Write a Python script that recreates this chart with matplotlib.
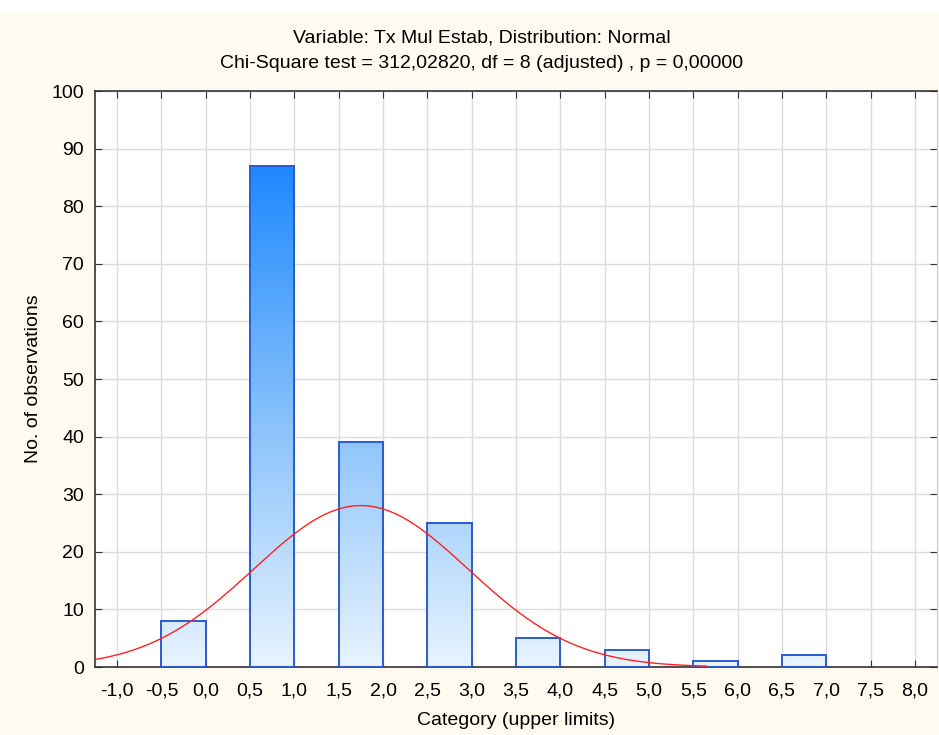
import numpy as np
import matplotlib
matplotlib.use("Agg")
import matplotlib.pyplot as plt
from matplotlib.colors import LinearSegmentedColormap
from matplotlib.patches import Rectangle

plt.rcParams['font.family'] = ['Liberation Sans', 'DejaVu Sans']

# histogram data (bin lower edge, count)
bin_left = [-0.5, 0.5, 1.5, 2.5, 3.5, 4.5, 5.5, 6.5]
counts = [8, 87, 39, 25, 5, 3, 1, 2]
bin_width = 0.5
# fitted normal
mu = 1.75
sigma = 1.21
n_total = sum(counts)
tick_vals = [-1.0, -0.5, 0.0, 0.5, 1.0, 1.5, 2.0, 2.5, 3.0, 3.5, 4.0,
             4.5, 5.0, 5.5, 6.0, 6.5, 7.0, 7.5, 8.0]
tick_labels = [f"{v:.1f}".replace(".", ",") for v in tick_vals]

fig = plt.figure(figsize=(9.39, 7.35), dpi=100, facecolor="#fffaf0")
fig.patches.append(Rectangle((0, 0.981), 1, 0.019, transform=fig.transFigure,
                             facecolor="white", edgecolor="none", zorder=0))
ax = fig.add_axes([95/939, 1-667/735, 842/939, 576/735])
ax.set_facecolor("white")

cmap = LinearSegmentedColormap.from_list("blu", ["#e8f3ff", "#86c0fa", "#1e88ff"])
ymax_bar = max(counts)
grad = np.linspace(0, 1, 256).reshape(-1, 1)

bars = ax.bar(bin_left, counts, width=bin_width, align="edge",
              facecolor="none", edgecolor="#2a5bd0", linewidth=1.4, zorder=3)
for b, c in zip(bars, counts):
    im = ax.imshow(grad, cmap=cmap, origin="lower", aspect="auto",
                   extent=[b.get_x(), b.get_x()+b.get_width(), 0, ymax_bar],
                   zorder=2, interpolation="bilinear")
    im.set_clip_path(b)

xs = np.linspace(-1.25, 5.65, 400)
ys = n_total * bin_width / (sigma*np.sqrt(2*np.pi)) * np.exp(-0.5*((xs-mu)/sigma)**2)
ax.plot(xs, ys, color="#ff2020", linewidth=1.0, zorder=4)

ax.set_xlim(-1.25, 8.25)
ax.set_ylim(0, 100)
ax.set_xticks(tick_vals)
ax.set_xticklabels(tick_labels)
ax.set_yticks(range(0, 101, 10))
ax.grid(True, color="#dcdcdc", linewidth=1.0, zorder=0)
ax.set_axisbelow(True)
ax.tick_params(direction="in", top=True, right=True, length=5, color="#333333",
               labelsize=14)
ax.tick_params(axis="x", pad=11)
ax.tick_params(axis="y", pad=8)
for s in ["left", "bottom", "top"]:
    ax.spines[s].set_color("#333333")
    ax.spines[s].set_linewidth(1.2)
ax.spines["right"].set_color("#cccccc")

ax.set_xlabel("Category (upper limits)", fontsize=14, labelpad=9)
ax.set_ylabel("No. of observations", fontsize=14, labelpad=7)
fig.text(0.513, 1-38/735, "Variable: Tx Mul Estab, Distribution: Normal",
         ha="center", va="center", fontsize=14)
fig.text(0.513, 1-64/735, "Chi-Square test = 312,02820, df = 8 (adjusted) , p = 0,00000",
         ha="center", va="center", fontsize=14)

fig.savefig("out.png", dpi=100, facecolor=fig.get_facecolor())
